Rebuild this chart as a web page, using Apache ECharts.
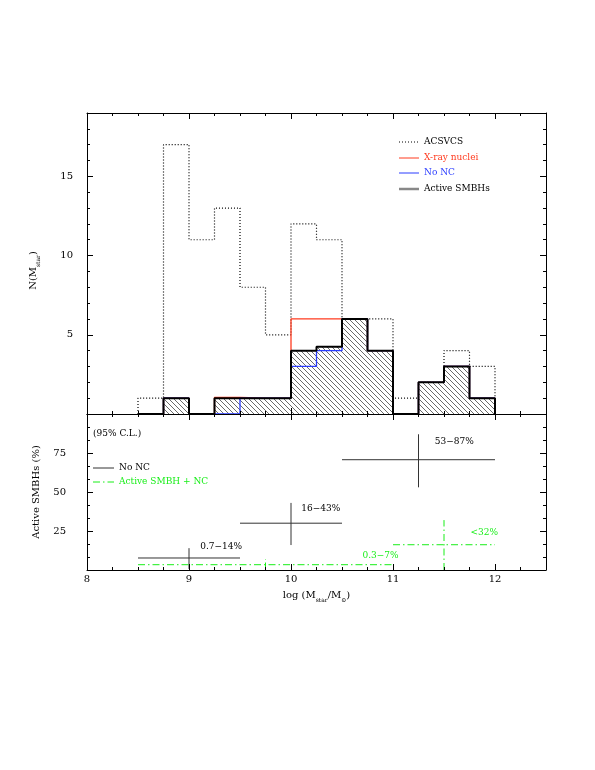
<!DOCTYPE html>
<html>
<head>
<meta charset="utf-8">
<script src="https://cdn.jsdelivr.net/npm/echarts@6/dist/echarts.min.js"></script>
<style>
html, body { margin: 0; background: #fff; }
#chart { width: 595px; height: 770px; }
</style>
</head>
<body>
<div id="chart"></div>
<script>
// histogram bins (log Mstar)
var binStarts = [8.5, 8.75, 9.0, 9.25, 9.5, 9.75, 10.0, 10.25, 10.5, 10.75, 11.0, 11.25, 11.5, 11.75];
var binWidth = 0.25;
var acsvcs = [1, 17, 11, 13, 8, 5, 12, 11, 6, 6, 1, 2, 4, 3];
var xrayNuclei = [0, 1, 0, 1.05, 1, 1, 6, 6, 6, 4, 0, 2, 3, 1];
var noNC = [0, 1, 0, 0, 1, 1, 3, 4, 6, 4, 0, 2, 3, 1];
var activeSMBH = [0, 1, 0, 1, 1, 1, 4, 4.25, 6, 4, 0, 2, 3, 1];

// active fraction, no NC (95% C.L.)
var fracX = [9, 10, 11.25];
var fracXlo = [8.5, 9.5, 10.5];
var fracXhi = [9.5, 10.5, 12];
var fracY = [7.7, 30, 70.7];
var fracYlo = [0.7, 16, 53];
var fracYhi = [14, 43, 87];
var fracText = ['0.7\u221214%', '16\u221243%', '53\u221287%'];
var fracTextX = [9.11, 10.1, 11.41];
var fracTextY = [14.8, 39.3, 82.4];

// active SMBH + NC
var ncX = [9.75, 11.5];
var ncXlo = [8.5, 11.0];
var ncXhi = [11.0, 12.0];
var ncY = [3.4, 16.2];
var ncYlo = [0.3, 0];
var ncYhi = [7, 32];
var ncText = ['0.3\u22127%', '<32%'];
var ncTextX = [10.7, 11.76];
var ncTextY = [9.2, 23.7];

var FONT = 'DejaVu Serif';
var RED = '#ff3b1f';
var BLUE = '#2b3dff';
var GREEN = '#19ee19';

function steps(counts) {
    var pts = [[binStarts[0], 0]];
    for (var i = 0; i < counts.length; i++) {
        pts.push([binStarts[i], counts[i]]);
        pts.push([binStarts[i] + binWidth, counts[i]]);
    }
    pts.push([binStarts[binStarts.length - 1] + binWidth, 0]);
    return pts;
}

function crosses(x, xlo, xhi, y, ylo, yhi, tx, ty) {
    return x.map(function (v, i) {
        return [v, y[i], xlo[i], xhi[i], ylo[i], yhi[i], tx[i], ty[i]];
    });
}

// hatch pattern
var hatch = document.createElement('canvas');
hatch.width = 5;
hatch.height = 5;
var hc = hatch.getContext('2d');
hc.strokeStyle = '#444';
hc.lineWidth = 0.8;
hc.beginPath();
hc.moveTo(-1, -1); hc.lineTo(6, 6);
hc.moveTo(-1, 4); hc.lineTo(1, 6);
hc.moveTo(4, -1); hc.lineTo(6, 1);
hc.stroke();

var chartDom = document.getElementById('chart');
var myChart = echarts.init(chartDom, null, {renderer: 'canvas'});

function xAx(grid, pos, interval, len, major, labels) {
    return {
        type: 'value', gridIndex: grid, position: pos, min: 8, max: 12.5, interval: interval,
        z: major ? 10 : 9,
        axisLine: {show: major, onZero: false, lineStyle: {color: '#000', width: 1}},
        axisTick: {show: true, inside: true, length: len, lineStyle: {color: '#000', width: 1}},
        axisLabel: {
            show: labels, margin: 4, color: '#000', fontFamily: FONT, fontSize: 10,
            formatter: function (v) { return (v % 1 === 0) ? String(v) : ''; }
        },
        splitLine: {show: false}
    };
}

function yAx(grid, pos, max, interval, len, major, labels, marks, margin) {
    return {
        type: 'value', gridIndex: grid, position: pos, min: 0, max: max, interval: interval,
        z: major ? 10 : 9,
        axisLine: {show: major, onZero: false, lineStyle: {color: '#000', width: 1}},
        axisTick: {show: true, inside: true, length: len, lineStyle: {color: '#000', width: 1}},
        axisLabel: {
            show: labels, margin: margin, color: '#000', fontFamily: FONT, fontSize: 10,
            formatter: function (v) { return marks.indexOf(v) >= 0 ? String(v) : ''; }
        },
        splitLine: {show: false}
    };
}

var richName = {
    a: {fontFamily: FONT, fontSize: 10, color: '#000', lineHeight: 16, verticalAlign: 'middle'},
    s: {fontFamily: FONT, fontSize: 6, color: '#000', lineHeight: 9, verticalAlign: 'bottom'}
};

var xAxes = [
    xAx(0, 'bottom', 1, 6, true, false),
    xAx(0, 'bottom', 0.25, 3, false, false),
    xAx(0, 'top', 1, 6, true, false),
    xAx(0, 'top', 0.25, 3, false, false),
    xAx(1, 'bottom', 1, 6, true, true),
    xAx(1, 'bottom', 0.25, 3, false, false),
    xAx(1, 'top', 1, 6, true, false),
    xAx(1, 'top', 0.25, 3, false, false)
];
xAxes[4].name = '{a|log (M}{s|star}{a|/M}{s|\u2299}{a|)}';
xAxes[4].nameLocation = 'middle';
xAxes[4].nameGap = 17;
xAxes[4].nameTextStyle = {rich: richName};

var yAxes = [
    yAx(0, 'left', 19, 5, 6, true, true, [5, 10, 15], 14),
    yAx(0, 'left', 19, 1, 3, false, false, [], 0),
    yAx(0, 'right', 19, 5, 6, true, false, [], 0),
    yAx(0, 'right', 19, 1, 3, false, false, [], 0),
    yAx(1, 'left', 100, 25, 6, true, true, [25, 50, 75], 21),
    yAx(1, 'left', 100, 25 / 3, 3, false, false, [], 0),
    yAx(1, 'right', 100, 25, 6, true, false, [], 0),
    yAx(1, 'right', 100, 25 / 3, 3, false, false, [], 0)
];
yAxes[0].name = '{a|N(M}{s|star}{a|)}';
yAxes[0].nameLocation = 'middle';
yAxes[0].nameGap = 46;
yAxes[0].nameRotate = 90;
yAxes[0].nameTextStyle = {rich: richName, padding: [0, 14, 0, 0]};
yAxes[4].name = 'Active SMBHs (%)';
yAxes[4].nameLocation = 'middle';
yAxes[4].nameGap = 46;
yAxes[4].nameRotate = 90;
yAxes[4].nameTextStyle = {fontFamily: FONT, fontSize: 10, color: '#000'};

function crossRender(color, dash, texts) {
    return function (params, api) {
        var x = api.value(0), y = api.value(1);
        var l = api.coord([api.value(2), y]);
        var r = api.coord([api.value(3), y]);
        var b = api.coord([x, api.value(4)]);
        var t = api.coord([x, api.value(5)]);
        var p = api.coord([api.value(6), api.value(7)]);
        var st = {stroke: color, lineWidth: 1, lineDash: dash};
        return {
            type: 'group',
            children: [
                {type: 'line', shape: {x1: l[0], y1: l[1], x2: r[0], y2: r[1]}, style: st},
                {type: 'line', shape: {x1: b[0], y1: b[1], x2: t[0], y2: t[1]}, style: st},
                {type: 'text', x: p[0], y: p[1], style: {
                    text: texts[params.dataIndex], fill: color === '#333' ? '#000' : color,
                    font: '9px "' + FONT + '"', verticalAlign: 'middle', align: 'left'
                }}
            ]
        };
    };
}

var DASHDOT = [7, 3, 1.5, 3];

option = {
    animation: false,
    backgroundColor: '#fff',
    grid: [
        {left: 87, right: 49, top: 113, height: 301},
        {left: 87, right: 49, top: 414, height: 156}
    ],
    xAxis: xAxes,
    yAxis: yAxes,
    graphic: [
        // top legend
        {type: 'line', shape: {x1: 399, y1: 142, x2: 419, y2: 142}, style: {stroke: '#000', lineWidth: 1, lineDash: [1, 2]}},
        {type: 'text', x: 424, y: 142, style: {text: 'ACSVCS', fill: '#000', font: '9px "' + FONT + '"', verticalAlign: 'middle'}},
        {type: 'line', shape: {x1: 399, y1: 158, x2: 419, y2: 158}, style: {stroke: RED, lineWidth: 1}},
        {type: 'text', x: 424, y: 158, style: {text: 'X-ray nuclei', fill: RED, font: '9px "' + FONT + '"', verticalAlign: 'middle'}},
        {type: 'line', shape: {x1: 399, y1: 173, x2: 419, y2: 173}, style: {stroke: BLUE, lineWidth: 1}},
        {type: 'text', x: 424, y: 173, style: {text: 'No NC', fill: BLUE, font: '9px "' + FONT + '"', verticalAlign: 'middle'}},
        {type: 'line', shape: {x1: 399, y1: 189, x2: 419, y2: 189}, style: {stroke: '#888', lineWidth: 2.5}},
        {type: 'text', x: 424, y: 189, style: {text: 'Active SMBHs', fill: '#000', font: '9px "' + FONT + '"', verticalAlign: 'middle'}},
        // bottom legend
        {type: 'text', x: 93, y: 434, style: {text: '(95% C.L.)', fill: '#000', font: '9px "' + FONT + '"', verticalAlign: 'middle'}},
        {type: 'line', shape: {x1: 93, y1: 468, x2: 114, y2: 468}, style: {stroke: '#333', lineWidth: 1}},
        {type: 'text', x: 119, y: 468, style: {text: 'No NC', fill: '#000', font: '9px "' + FONT + '"', verticalAlign: 'middle'}},
        {type: 'line', shape: {x1: 93, y1: 482, x2: 114, y2: 482}, style: {stroke: GREEN, lineWidth: 1, lineDash: DASHDOT}},
        {type: 'text', x: 119, y: 482, style: {text: 'Active SMBH + NC', fill: GREEN, font: '9px "' + FONT + '"', verticalAlign: 'middle'}}
    ],
    series: [
        {
            name: 'ACSVCS', type: 'line', xAxisIndex: 0, yAxisIndex: 0,
            data: steps(acsvcs), symbol: 'none', silent: true,
            lineStyle: {color: '#000', width: 1.2, type: [1, 2]}
        },
        {
            name: 'X-ray nuclei', type: 'line', xAxisIndex: 0, yAxisIndex: 0,
            data: steps(xrayNuclei), symbol: 'none', silent: true,
            lineStyle: {color: RED, width: 1.3}
        },
        {
            name: 'No NC', type: 'line', xAxisIndex: 0, yAxisIndex: 0,
            data: steps(noNC), symbol: 'none', silent: true,
            lineStyle: {color: BLUE, width: 1.3}
        },
        {
            name: 'Active SMBHs', type: 'line', xAxisIndex: 0, yAxisIndex: 0,
            data: steps(activeSMBH), symbol: 'none', silent: true,
            lineStyle: {color: '#000', width: 2},
            areaStyle: {color: {image: hatch, repeat: 'repeat'}, opacity: 1}
        },
        {
            name: 'No NC fraction', type: 'custom', xAxisIndex: 4, yAxisIndex: 4,
            renderItem: crossRender('#333', null, fracText),
            data: crosses(fracX, fracXlo, fracXhi, fracY, fracYlo, fracYhi, fracTextX, fracTextY),
            silent: true
        },
        {
            name: 'Active SMBH + NC', type: 'custom', xAxisIndex: 4, yAxisIndex: 4,
            renderItem: crossRender(GREEN, DASHDOT, ncText),
            data: crosses(ncX, ncXlo, ncXhi, ncY, ncYlo, ncYhi, ncTextX, ncTextY),
            silent: true
        }
    ]
};

option && myChart.setOption(option);
</script>
</body>
</html>
